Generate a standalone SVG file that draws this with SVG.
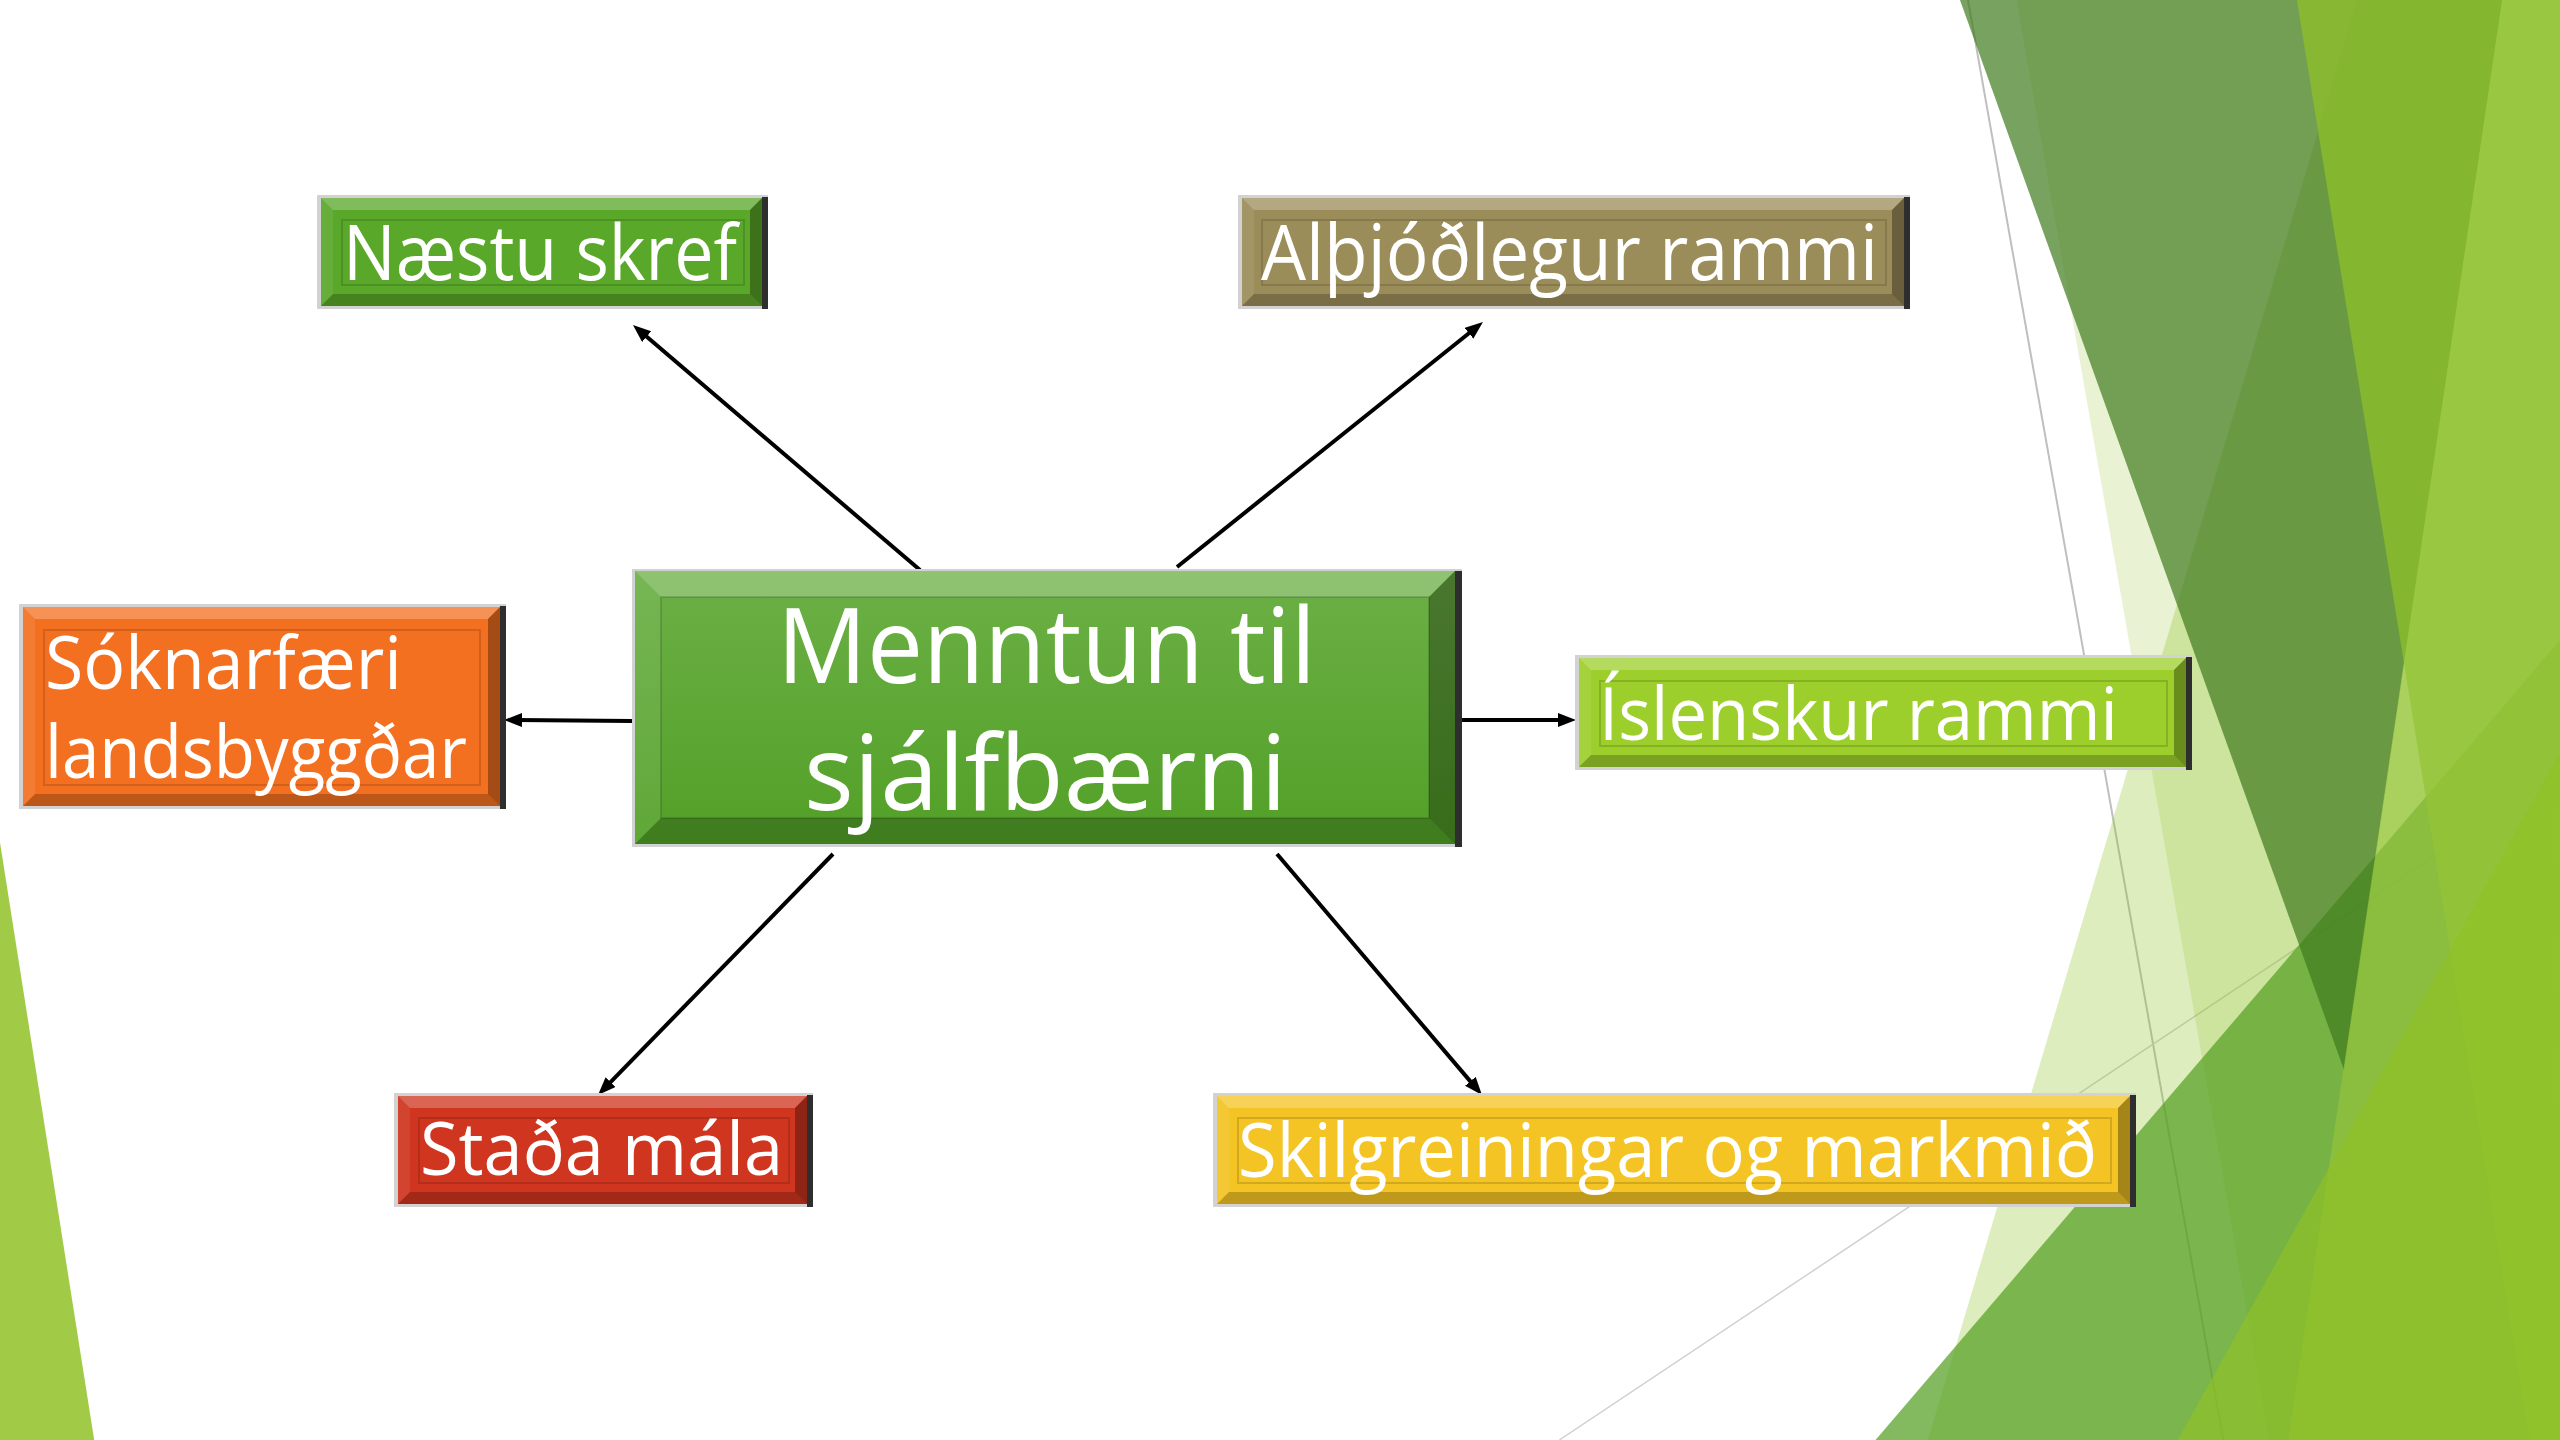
<svg xmlns="http://www.w3.org/2000/svg" width="2560" height="1440" viewBox="0 0 2560 1440">
<defs>
<style>
.lbl{font-family:"Open Sans","Liberation Sans",sans-serif;fill:#ffffff;}
.frame{fill:#d2d2d2;}
.redge{fill:#2e2e2e;}
.btop{fill:#ffffff;fill-opacity:0.24;}
.bleft{fill:#ffffff;fill-opacity:0.08;}
.bbot{fill:#000000;fill-opacity:0.22;}
.bright{fill:#000000;fill-opacity:0.32;}
.inner{fill:none;stroke:#000000;stroke-opacity:0.14;stroke-width:2;}
.conn{stroke:#000000;stroke-width:4;fill:none;marker-end:url(#ah);}
</style>
<marker id="ah" markerUnits="userSpaceOnUse" markerWidth="20" markerHeight="16" refX="6" refY="7" orient="auto">
<path d="M0,0 L18,7 L0,14 Z" fill="#000000"/>
</marker>
<linearGradient id="gc" x1="0" y1="0" x2="0" y2="1">
<stop offset="0" stop-color="#6cb046"/>
<stop offset="1" stop-color="#52a027"/>
</linearGradient>
</defs>
<rect x="0" y="0" width="2560" height="1440" fill="#ffffff"/>
<g id="background">
<line x1="1967.6" y1="-2" x2="2223.8" y2="1443" stroke="#bfbfbf" stroke-width="2"/>
<line x1="1559.3" y1="1440" x2="2559.6" y2="773.1" stroke="#d0d0d0" stroke-width="1.5"/>
<polygon points="2357.3,0 2560,0 2560,1440 1927.8,1440" fill="#90c226" fill-opacity="0.3"/>
<polygon points="2016.5,0 2560,0 2560,1440 2269.1,1440" fill="#90c226" fill-opacity="0.2"/>
<polygon points="2560,640 2560,1440 1875.5,1440" fill="#54a021" fill-opacity="0.72"/>
<polygon points="1960,0 2502.2,0 2344,1070" fill="#3e7b1c" fill-opacity="0.7"/>
<polygon points="2296.9,0 2560,0 2560,1440 2529.5,1440" fill="#90c226" fill-opacity="0.7"/>
<polygon points="2502.2,0 2560,0 2560,1440 2288.4,1440" fill="#96c43c" fill-opacity="0.65"/>
<polygon points="2559.3,753.8 2560,1440 2177.7,1440" fill="#90c226" fill-opacity="0.65"/>
<polygon points="0,842.6 94.2,1440 0,1440" fill="#90c226" fill-opacity="0.85"/>
</g>
<g id="connectors">
<line class="conn" x1="920" y1="570" x2="642.1" y2="332.8"/>
<line class="conn" x1="1177" y1="567" x2="1473.6" y2="329.5"/>
<line class="conn" x1="632" y1="721" x2="516" y2="720"/>
<line class="conn" x1="1462" y1="720" x2="1564" y2="720"/>
<line class="conn" x1="833" y1="854" x2="606.4" y2="1086.4"/>
<line class="conn" x1="1277" y1="854" x2="1474.2" y2="1085.9"/>
</g>
<g id="node-naestu-skref">
<rect class="frame" x="317" y="195" width="451" height="114"/>
<rect class="redge" x="762" y="197" width="6" height="112"/>
<rect x="321" y="198" width="441" height="108" fill="#5aa829"/>
<polygon class="btop" points="321,198 762,198 750,210 333,210"/>
<polygon class="bleft" points="321,198 333,210 333,294 321,306"/>
<polygon class="bbot" points="321,306 762,306 750,294 333,294"/>
<polygon class="bright" points="762,198 750,210 750,294 762,306"/>
<rect class="inner" x="342" y="220" width="402" height="65"/>
<text class="lbl" x="343" y="280" font-size="76" textLength="394" lengthAdjust="spacingAndGlyphs">Næstu skref</text>
</g>
<g id="node-althjodlegur-rammi">
<rect class="frame" x="1238" y="195" width="672" height="114"/>
<rect class="redge" x="1904" y="197" width="6" height="112"/>
<rect x="1242" y="198" width="662" height="108" fill="#9b8d5a"/>
<polygon class="btop" points="1242,198 1904,198 1892,210 1254,210"/>
<polygon class="bleft" points="1242,198 1254,210 1254,294 1242,306"/>
<polygon class="bbot" points="1242,306 1904,306 1892,294 1254,294"/>
<polygon class="bright" points="1904,198 1892,210 1892,294 1904,306"/>
<rect class="inner" x="1262" y="220" width="624" height="65"/>
<text class="lbl" x="1261" y="280" font-size="76" textLength="617" lengthAdjust="spacingAndGlyphs">Alþjóðlegur rammi</text>
</g>
<g id="node-soknarfaeri">
<rect class="frame" x="19" y="604" width="487" height="205"/>
<rect class="redge" x="500" y="606" width="6" height="203"/>
<rect x="23" y="607" width="477" height="199" fill="#f37021"/>
<polygon class="btop" points="23,607 500,607 488,619 35,619"/>
<polygon class="bleft" points="23,607 35,619 35,794 23,806"/>
<polygon class="bbot" points="23,806 500,806 488,794 35,794"/>
<polygon class="bright" points="500,607 488,619 488,794 500,806"/>
<rect class="inner" x="44" y="630" width="436" height="155"/>
<text class="lbl" x="45" y="689" font-size="74" textLength="357" lengthAdjust="spacingAndGlyphs">Sóknarfæri</text>
<text class="lbl" x="45" y="778" font-size="74" textLength="422" lengthAdjust="spacingAndGlyphs">landsbyggðar</text>
</g>
<g id="node-menntun">
<rect class="frame" x="632" y="569" width="830" height="278"/>
<rect class="redge" x="1455" y="571" width="7" height="276"/>
<rect x="635" y="571" width="820" height="273" fill="url(#gc)"/>
<polygon class="btop" points="635,571 1455,571 1429,597 661,597"/>
<polygon class="bleft" points="635,571 661,597 661,818 635,844"/>
<polygon class="bbot" points="635,844 1455,844 1429,818 661,818"/>
<polygon class="bright" points="1455,571 1429,597 1429,818 1455,844"/>
<rect class="inner" x="661" y="597" width="768" height="221"/>
<text class="lbl" x="777" y="683" font-size="104" textLength="539" lengthAdjust="spacingAndGlyphs">Menntun til</text>
<text class="lbl" x="804" y="810" font-size="104" textLength="483" lengthAdjust="spacingAndGlyphs">sjálfbærni</text>
</g>
<g id="node-islenskur-rammi">
<rect class="frame" x="1575" y="655" width="617" height="115"/>
<rect class="redge" x="2186" y="657" width="6" height="113"/>
<rect x="1579" y="658" width="607" height="109" fill="#9dcf2c"/>
<polygon class="btop" points="1579,658 2186,658 2174,670 1591,670"/>
<polygon class="bleft" points="1579,658 1591,670 1591,755 1579,767"/>
<polygon class="bbot" points="1579,767 2186,767 2174,755 1591,755"/>
<polygon class="bright" points="2186,658 2174,670 2174,755 2186,767"/>
<rect class="inner" x="1600" y="681" width="567" height="65"/>
<text class="lbl" x="1599" y="740" font-size="74" textLength="519" lengthAdjust="spacingAndGlyphs">Íslenskur rammi</text>
</g>
<g id="node-stada-mala">
<rect class="frame" x="394" y="1093" width="419" height="114"/>
<rect class="redge" x="807" y="1095" width="6" height="112"/>
<rect x="398" y="1096" width="409" height="108" fill="#d0351f"/>
<polygon class="btop" points="398,1096 807,1096 795,1108 410,1108"/>
<polygon class="bleft" points="398,1096 410,1108 410,1192 398,1204"/>
<polygon class="bbot" points="398,1204 807,1204 795,1192 410,1192"/>
<polygon class="bright" points="807,1096 795,1108 795,1192 807,1204"/>
<rect class="inner" x="419" y="1118" width="370" height="65"/>
<text class="lbl" x="420" y="1175" font-size="74" textLength="363" lengthAdjust="spacingAndGlyphs">Staða mála</text>
</g>
<g id="node-skilgreiningar">
<rect class="frame" x="1213" y="1093" width="923" height="114"/>
<rect class="redge" x="2130" y="1095" width="6" height="112"/>
<rect x="1217" y="1096" width="913" height="108" fill="#f4c424"/>
<polygon class="btop" points="1217,1096 2130,1096 2118,1108 1229,1108"/>
<polygon class="bleft" points="1217,1096 1229,1108 1229,1192 1217,1204"/>
<polygon class="bbot" points="1217,1204 2130,1204 2118,1192 1229,1192"/>
<polygon class="bright" points="2130,1096 2118,1108 2118,1192 2130,1204"/>
<rect class="inner" x="1238" y="1118" width="873" height="65"/>
<text class="lbl" x="1238" y="1177" font-size="75" textLength="859" lengthAdjust="spacingAndGlyphs">Skilgreiningar og markmið</text>
</g>
</svg>
